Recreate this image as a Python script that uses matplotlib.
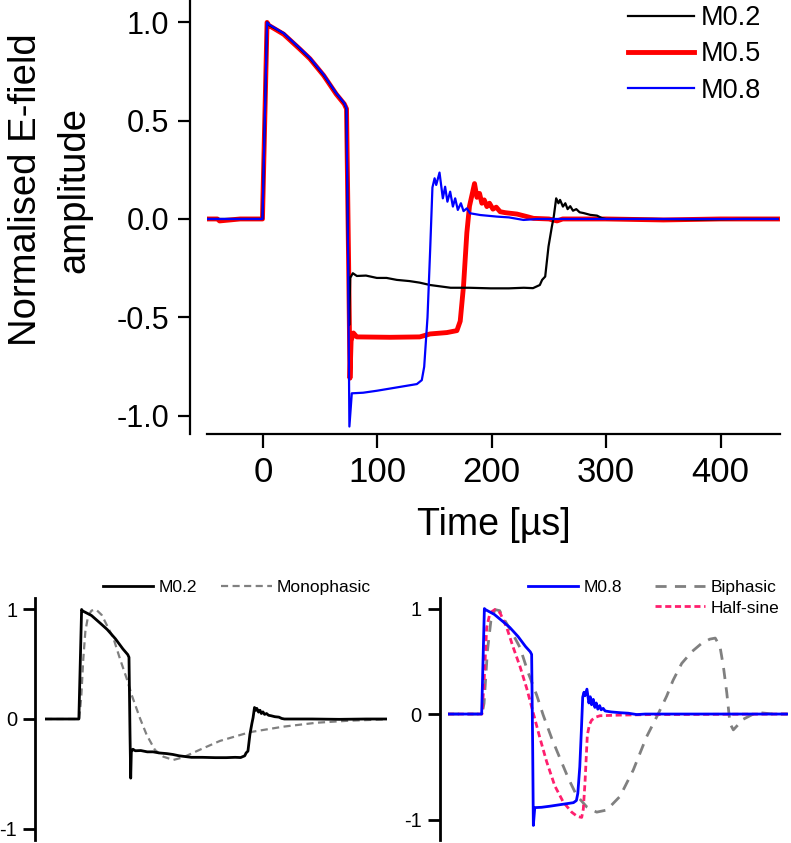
import matplotlib
matplotlib.use("Agg")
import matplotlib.pyplot as plt
from matplotlib.lines import Line2D

# ---------------- data ----------------
t_m02 = [-50, -30, -10, -0.5, 3.5, 5, 18, 32, 41, 53, 64, 71, 72.8, 74.3, 75.3, 76.2, 78.5, 82, 90, 99.5,
         108, 117, 128, 137, 146, 164, 180, 199, 215, 228, 236, 242, 244, 246.7, 249.6, 252.5, 254.2, 256.3,
         258.3, 259.7, 262.2, 264.3, 266.3, 268.6, 271, 273.9, 276.8, 280.3, 286, 292, 296, 300, 340, 380,
         420, 450]
v_m02 = [0, 0, 0, 0, 1.0, 0.987, 0.945, 0.868, 0.817, 0.732, 0.639, 0.588, 0.563, -0.15, -0.54, -0.30, -0.276,
         -0.29, -0.288, -0.30, -0.30, -0.31, -0.316, -0.324, -0.336, -0.35, -0.35, -0.353, -0.353, -0.35,
         -0.352, -0.336, -0.31, -0.293, -0.14, -0.04, 0.012, 0.105, 0.08, 0.097, 0.063, 0.08, 0.05, 0.065,
         0.042, 0.05, 0.034, 0.03, 0.021, 0.017, 0.005, 0.0, 0.0, -0.003, 0.0, 0.0]

t_m05 = [-50, -40, -38, -20, -5, -0.5, 3.5, 5, 18, 32, 41, 53, 64, 71, 73, 75, 76, 77, 79, 82, 111, 137, 146,
         160.7, 169.5, 172.4, 175.3, 178.2, 180.5, 183, 184.9, 187, 189.3, 191.3, 193.4, 195.7, 198, 201, 203.9,
         207.3, 211.7, 222, 230.7, 236.5, 250, 257, 262, 300, 350, 400, 450]
v_m05 = [0, 0, -0.01, 0, 0, 0, 1.0, 0.985, 0.94, 0.865, 0.815, 0.73, 0.635, 0.585, 0.56, -0.3, -0.81, -0.62,
         -0.58, -0.60, -0.602, -0.6, -0.585, -0.578, -0.568, -0.52, -0.34, -0.07, 0.065, 0.13, 0.18, 0.11, 0.13,
         0.08, 0.097, 0.063, 0.08, 0.05, 0.06, 0.037, 0.032, 0.025, 0.012, 0.003, 0.0, -0.01, 0.0, 0.0, -0.005,
         0.0, 0.0]

t_m08 = [-50, -25, -0.5, 3.5, 5, 18, 32, 41, 53, 64, 71, 73, 74.5, 75.5, 77.6, 87.5, 99.5, 117, 134.5, 138.8,
         140.9, 143.8, 146.1, 148.1, 150, 151.4, 154.3, 157.2, 159.2, 161.2, 163.6, 166, 168, 170.3, 173, 175.3,
         178.2, 181, 190, 204.5, 215, 227.7, 240, 300, 400, 450]
v_m08 = [0, 0, 0, 1.0, 0.99, 0.945, 0.87, 0.82, 0.735, 0.64, 0.59, 0.565, -0.3, -1.056, -0.887, -0.884, -0.874,
         -0.857, -0.84, -0.82, -0.752, -0.5, -0.16, 0.16, 0.207, 0.173, 0.236, 0.105, 0.164, 0.088, 0.139, 0.063,
         0.105, 0.046, 0.08, 0.04, 0.054, 0.029, 0.02, 0.012, 0.008, -0.005, 0.0, 0.0, 0.0, 0.0]

t_mono = [-50, 0, 3, 6, 9, 13, 18, 24.6, 32.9, 42.6, 49.9, 59.6, 69.4, 76.7, 88.9, 98.7, 110.8, 123, 137.6,
          152, 176.6, 205.8, 249.7, 298.4, 347.2, 396, 450]
v_mono = [0, 0, 0.2, 0.55, 0.8, 0.94, 0.99, 1.0, 0.95, 0.83, 0.74, 0.55, 0.37, 0.22, 0.006, -0.146, -0.283,
          -0.344, -0.374, -0.35, -0.28, -0.2, -0.12, -0.07, -0.034, -0.015, -0.003]

t_bi = [-50, 0, 3, 8, 13, 19, 26, 31.4, 43.6, 55.9, 68, 80.4, 90, 102.5, 114.7, 127, 139, 154, 168.6, 183.4,
        203, 222.5, 242, 259, 271.6, 281, 293.7, 308.4, 323, 335, 343, 350, 355, 360, 364.7, 369.6, 384, 399,
        410, 428, 450]
v_bi = [0, 0, 0.1, 0.6, 0.88, 0.99, 0.98, 0.91, 0.78, 0.63, 0.39, 0.18, -0.01, -0.23, -0.42, -0.61, -0.77,
        -0.88, -0.93, -0.91, -0.78, -0.53, -0.216, 0.0, 0.17, 0.32, 0.48, 0.59, 0.67, 0.71, 0.72, 0.64, 0.45,
        0.2, -0.09, -0.15, -0.05, 0.0, 0.012, 0.0, 0.0]

t_hs = [-50, 0, 3, 6.9, 11.8, 19, 26.5, 36.3, 46, 55.9, 65.7, 75.5, 85.3, 95, 107, 119.6, 131.9, 140, 146.6,
        149, 151.5, 154.9, 158, 161.3, 167, 173.5, 203, 250, 450]
v_hs = [0, 0, 0.3, 0.82, 0.96, 0.99, 0.96, 0.82, 0.63, 0.45, 0.245, 0.007, -0.23, -0.45, -0.68, -0.835, -0.93,
        -0.97, -0.98, -0.9, -0.645, -0.2, -0.1, -0.057, -0.03, -0.016, -0.01, -0.005, 0]

top_xticks = [0, 100, 200, 300, 400]
top_yticks = [-1.0, -0.5, 0.0, 0.5, 1.0]
bot_yticks = [-1, 0, 1]

# ---------------- figure ----------------
W, H = 791, 843
plt.rcParams['font.family'] = ['Liberation Sans', 'DejaVu Sans']
plt.rcParams['axes.unicode_minus'] = False
fig = plt.figure(figsize=(W / 100, H / 100), dpi=100)


def box(x0, y0, x1, y1):
    return [x0 / W, 1 - y1 / H, (x1 - x0) / W, (y1 - y0) / H]


narrow = ['Liberation Sans Narrow', 'Liberation Sans', 'DejaVu Sans']

# top panel
ax = fig.add_axes(box(207, 0, 780, 434))
ax.plot(t_m02, v_m02, color='black', lw=1.6, label='M0.2', zorder=3)
ax.plot(t_m05, v_m05, color='#ff0000', lw=3.5, label='M0.5', zorder=2)
ax.plot(t_m08, v_m08, color='#0000ff', lw=1.6, label='M0.8', zorder=4)
ax.set_xlim(-49, 452)
ax.set_ylim(-1.094, 1.114)
for s in ['top', 'right']:
    ax.spines[s].set_visible(False)
ax.spines['left'].set_position(('outward', 12))
ax.spines['left'].set_linewidth(1.6)
ax.spines['bottom'].set_linewidth(1.6)
ax.set_xticks(top_xticks)
ax.set_yticks(top_yticks)
ax.set_yticklabels([f'{v:.1f}' for v in top_yticks])
ax.tick_params(axis='y', direction='out', length=9, width=1.6, labelsize=22, pad=6)
ax.tick_params(axis='x', direction='out', length=10, width=1.6, labelsize=25, pad=6)
for lab in ax.get_xticklabels():
    lab.set_family(narrow)
ax.set_xlabel('Time [µs]', fontsize=27, family=narrow, labelpad=13)
fig.text(50 / W, 1 - 190 / H, 'Normalised E-field\namplitude', rotation=90, ha='center', va='center',
         multialignment='center', fontsize=27.5, linespacing=1.45)
leg = ax.legend(loc='upper left', bbox_to_anchor=(628 / W, 1 - 5 / H), bbox_transform=fig.transFigure,
                frameon=False, fontsize=19.5, handlelength=2.45, handletextpad=0.25, labelspacing=0.38,
                borderpad=0, borderaxespad=0)

# bottom left panel
axl = fig.add_axes(box(45, 598, 387, 840))
axl.plot(t_m02, v_m02, color='black', lw=2.0, label='M0.2', zorder=3)
axl.plot(t_mono, v_mono, color='#808080', lw=1.6, ls=(0, (3.2, 2)), label='Monophasic', zorder=2)
axl.set_xlim(-50, 450)
axl.set_ylim(-1.105, 1.105)
for s in ['top', 'right', 'bottom']:
    axl.spines[s].set_visible(False)
axl.spines['left'].set_position(('outward', 7))
axl.spines['left'].set_linewidth(2)
axl.set_xticks([])
axl.set_yticks(bot_yticks)
axl.tick_params(axis='y', direction='out', length=9, width=2, labelsize=14.5, pad=4)
axl.legend(loc='upper left', bbox_to_anchor=(103 / W, 1 - 580 / H), bbox_transform=fig.transFigure, ncol=2,
           frameon=False, fontsize=12.5, handlelength=2.9, handletextpad=0.3, columnspacing=1.4,
           borderpad=0, borderaxespad=0)

# bottom right panel
axr = fig.add_axes(box(448, 598, 788, 840))
hb, = axr.plot(t_m08, v_m08, color='#0000ff', lw=2.0, label='M0.8', zorder=4)
hbi, = axr.plot(t_bi, v_bi, color='#808080', lw=2.0, ls=(0, (4, 3)), label='Biphasic', zorder=2)
hhs, = axr.plot(t_hs, v_hs, color='#ff1f6e', lw=2.0, ls=(0, (2.2, 1.3)), label='Half-sine', zorder=3)
axr.set_xlim(-50, 450)
axr.set_ylim(-1.194, 1.1)
for s in ['top', 'right', 'bottom']:
    axr.spines[s].set_visible(False)
axr.spines['left'].set_position(('outward', 6))
axr.spines['left'].set_linewidth(2)
axr.set_xticks([])
axr.set_yticks(bot_yticks)
axr.tick_params(axis='y', direction='out', length=9, width=2, labelsize=14.5, pad=4)
blank = Line2D([], [], color='none')
axr.legend([hb, blank, hbi, hhs], ['M0.8', '', 'Biphasic', 'Half-sine'], loc='upper left',
           bbox_to_anchor=(528 / W, 1 - 580 / H), bbox_transform=fig.transFigure, ncol=2,
           frameon=False, fontsize=12.5, handlelength=2.9, handletextpad=0.3, columnspacing=1.9,
           labelspacing=0.3, borderpad=0, borderaxespad=0)

fig.savefig('out.png', dpi=100)
